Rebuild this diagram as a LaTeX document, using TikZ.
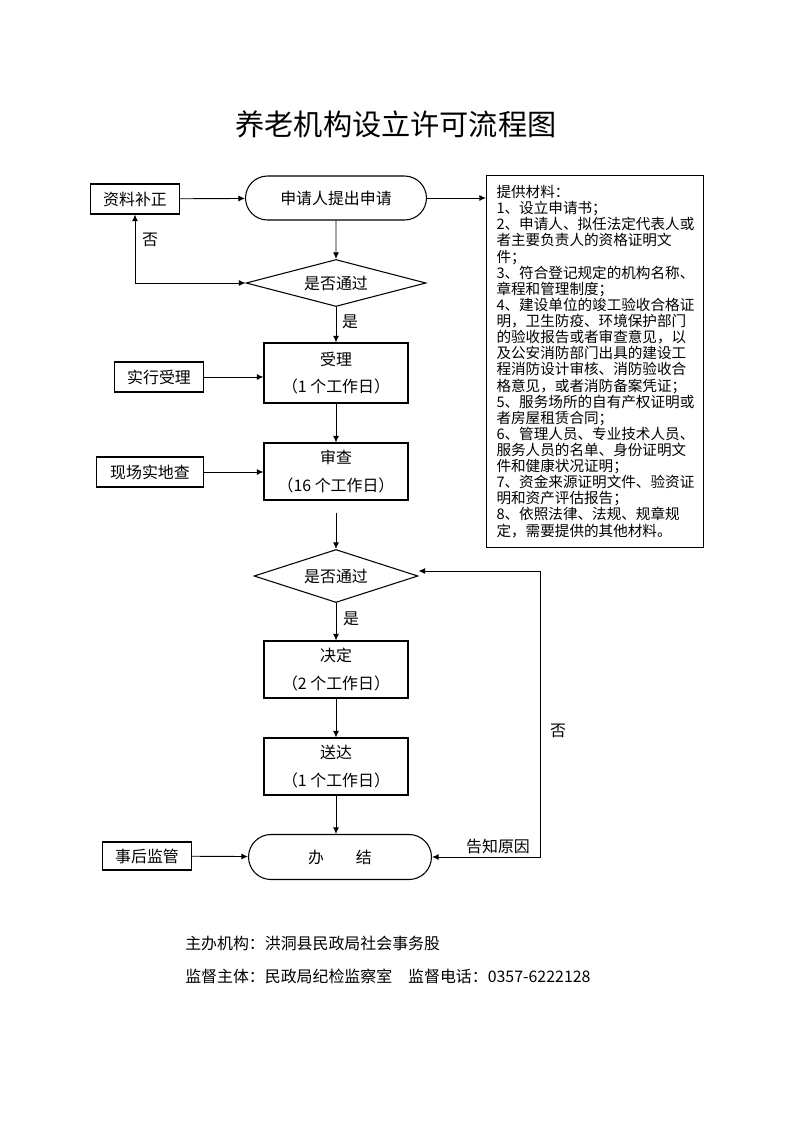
\documentclass[tikz,border=0pt]{standalone}
\usepackage{fontspec}
\setmainfont{Noto Sans CJK SC}
\usetikzlibrary{shapes.geometric,shapes.misc,arrows.meta}
\XeTeXlinebreaklocale "zh"
\XeTeXlinebreakskip=0pt plus 1pt
\def\pxl{0.75345pt}
\newcommand\jline[1]{\makebox[\hsize][s]{#1}}
\tikzset{
	>={Latex[length=5pt,width=4.5pt]},
	box/.style={draw, line width=0.8pt, inner sep=0pt, align=center, font=\fontsize{12}{21}\selectfont},
	stepbox/.style={box, minimum width=144*\pxl, minimum height=57*\pxl},
	sidebox/.style={box, minimum width=89*\pxl, minimum height=30*\pxl},
	decision/.style={draw, diamond, line width=0.8pt, inner sep=0pt, font=\fontsize{12}{14}\selectfont},
	terminal/.style={draw, rounded rectangle, line width=0.8pt, inner sep=0pt, font=\fontsize{12}{14}\selectfont},
	lbl/.style={inner sep=0pt, font=\fontsize{12}{14}\selectfont},
	link/.style={->, line width=0.7pt}
}

\begin{document}
\begin{tikzpicture}[x=0.026482cm, y=-0.026482cm]
				\useasboundingbox (0,0) rectangle (793,1122);
				
				\node[inner sep=0pt, font=\fontsize{22}{26}\selectfont] (title) at (396,124) {养老机构设立许可流程图};
				
				% first part: application
				\node[sidebox] (fix) at (135,199) {资料补正};
				\node[terminal, minimum width=181*\pxl, minimum height=44*\pxl] (apply) at (336,198) {申请人提出申请};
				\node[draw, line width=0.8pt, anchor=north west, text width=197*\pxl, inner xsep=10*\pxl, inner ysep=0pt,
					minimum height=372*\pxl, align=left, font=\fontsize{11}{12.15}\selectfont] (materials) at (486,175) {%
					提供材料：\\
					1、设立申请书；\\
					\jline{2、申请人、拟任法定代表人或}\\
					\jline{者主要负责人的资格证明文}\\
					件；\\
					\jline{3、符合登记规定的机构名称、}\\
					章程和管理制度；\\
					\jline{4、建设单位的竣工验收合格证}\\
					\jline{明，卫生防疫、环境保护部门}\\
					\jline{的验收报告或者审查意见，以}\\
					\jline{及公安消防部门出具的建设工}\\
					\jline{程消防设计审核、消防验收合}\\
					格意见，或者消防备案凭证；\\
					\jline{5、服务场所的自有产权证明或}\\
					者房屋租赁合同；\\
					\jline{6、管理人员、专业技术人员、}\\
					\jline{服务人员的名单、身份证明文}\\
					件和健康状况证明；\\
					\jline{7、资金来源证明文件、验资证}\\
					明和资产评估报告；\\
					\jline{8、依照法律、法规、规章规}\\
					定，需要提供的其他材料。};
				\node[decision, aspect=3.8, minimum width=180*\pxl, minimum height=47*\pxl] (pass1) at (336,283) {是否通过};
				
				% second part: accept and review
				\node[stepbox, minimum height=60*\pxl] (accept) at (336,373) {受理\\（1 个工作日）};
				\node[sidebox] (doaccept) at (159,377) {实行受理};
				\node[stepbox] (review) at (336,471.5) {审查\\（16 个工作日）};
				\node[sidebox, minimum width=107*\pxl] (inspect) at (150,472) {现场实地查};
				\node[decision, aspect=3.1, minimum width=164*\pxl, minimum height=53*\pxl] (pass2) at (336,576) {是否通过};
				
				% third part: decision and end
				\node[stepbox] (decide) at (336,669.5) {决定\\（2 个工作日）};
				\node[stepbox] (deliver) at (336,766.5) {送达\\（1 个工作日）};
				\node[terminal, minimum width=183*\pxl, minimum height=45*\pxl] (finish) at (340,857) {办　　结};
				\node[sidebox, minimum height=28*\pxl] (supervise) at (147,856) {事后监管};
				\coordinate (loop) at (540,571);
				
				\node[lbl] (no1) at (150,240) {否};
				\node[lbl] (yes1) at (350,322) {是};
				\node[lbl] (yes2) at (351,619) {是};
				\node[lbl] (no2) at (558,731) {否};
				\node[lbl] (reason) at (498,847) {告知原因};
				
				\draw[link] (fix) -- (apply);
				\draw[link] (apply.east) -- (apply.east -| materials.west);
				\draw[link] (apply) -- (pass1);
				\draw[link, <->] (fix.south) |- (pass1.west);
				\draw[link] (pass1) -- (accept);
				\draw[link] (doaccept.east) -- (doaccept.east -| accept.west);
				\draw[link] (accept) -- (review);
				\draw[link] (inspect.east) -- (inspect.east -| review.west);
				\draw[link, shorten <=12*\pxl] (review) -- (pass2);
				\draw[link] (pass2) -- (decide);
				\draw[link] (decide) -- (deliver);
				\draw[link] (deliver.south) -- (deliver.south |- finish.north);
				\draw[link] (supervise) -- (finish);
				\draw[link, <->] (pass2.east |- loop) -- (loop) |- (finish.east);
				
				\node[lbl, anchor=west] (host) at (185,943) {主办机构：洪洞县民政局社会事务股};
				\node[lbl, anchor=west] (watch) at (185,976) {监督主体：民政局纪检监察室　监督电话：0357-6222128};
\end{tikzpicture}
\end{document}
